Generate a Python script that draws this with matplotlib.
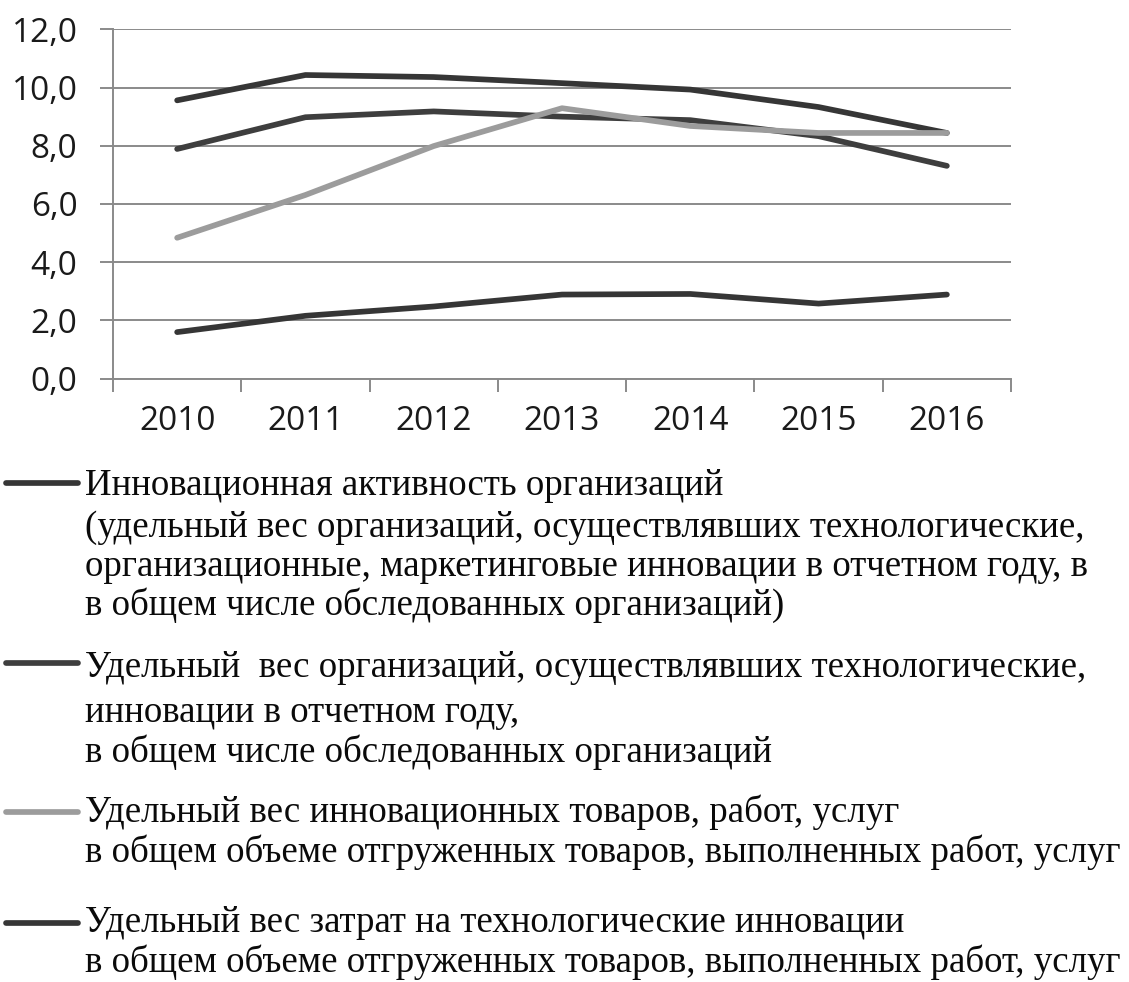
import matplotlib
matplotlib.use("Agg")
import matplotlib.pyplot as plt
from matplotlib.lines import Line2D
from matplotlib.ticker import FixedLocator, FuncFormatter

years = ["2010", "2011", "2012", "2013", "2014", "2015", "2016"]
s_activity = [9.56, 10.43, 10.36, 10.15, 9.93, 9.33, 8.44]
s_tech_orgs = [7.89, 8.98, 9.18, 9.0, 8.88, 8.33, 7.31]
s_innov_goods = [4.84, 6.31, 7.99, 9.29, 8.68, 8.44, 8.44]
s_costs = [1.6, 2.16, 2.48, 2.89, 2.91, 2.58, 2.89]

legend_texts = [
    ["Инновационная активность организаций",
     "(удельный вес организаций, осуществлявших технологические,",
     "организационные, маркетинговые инновации в отчетном году, в",
     "в общем числе обследованных организаций)"],
    ["Удельный  вес организаций, осуществлявших технологические,",
     "инновации в отчетном году,",
     "в общем числе обследованных организаций"],
    ["Удельный вес инновационных товаров, работ, услуг",
     "в общем объеме отгруженных товаров, выполненных работ, услуг"],
    ["Удельный вес затрат на технологические инновации",
     "в общем объеме отгруженных товаров, выполненных работ, услуг"],
]

series = [s_activity, s_tech_orgs, s_innov_goods, s_costs]
colors = ["#363636", "#3e3e3e", "#9c9c9c", "#363636"]

W, H = 1129, 982
fig = plt.figure(figsize=(W / 100, H / 100), dpi=100)
ax = fig.add_axes([113 / W, 1 - 378.7 / H, (1011 - 113) / W, (378.7 - 29.3) / H])

x = list(range(len(years)))
for s, c in zip(series, colors):
    ax.plot(x, s, color=c, lw=4.1, solid_capstyle="round", solid_joinstyle="round", zorder=3)

ax.set_xlim(-0.5, len(years) - 0.5)
ax.set_ylim(0, 12)
ax.yaxis.set_major_locator(FixedLocator([0, 2, 4, 6, 8, 10, 12]))
ax.yaxis.set_major_formatter(FuncFormatter(lambda v, p: f"{v:.1f}".replace(".", ",")))
ax.grid(axis="y", color="#8a8a8a", lw=1.4, zorder=1)
ax.set_axisbelow(True)

ax.xaxis.set_major_locator(FixedLocator([i - 0.5 for i in range(len(years) + 1)]))
ax.xaxis.set_major_formatter(FuncFormatter(lambda v, p: ""))
ax.xaxis.set_minor_locator(FixedLocator(x))
ax.set_xticklabels(years, minor=True)

for sp in ["top", "right"]:
    ax.spines[sp].set_visible(False)
for sp in ["left", "bottom"]:
    ax.spines[sp].set_color("#8a8a8a")
    ax.spines[sp].set_linewidth(1.4)

ax.tick_params(axis="y", which="major", length=9.5, width=1.4, color="#8a8a8a", pad=16)
ax.tick_params(axis="x", which="major", length=9, width=1.4, color="#8a8a8a")
ax.tick_params(axis="x", which="minor", length=0, pad=19)
for lab in ax.get_yticklabels():
    lab.set_fontfamily("Open Sans"); lab.set_fontsize(24); lab.set_color("#1a1a1a")
for lab in ax.get_xticklabels(minor=True):
    lab.set_fontfamily("Open Sans"); lab.set_fontsize(24); lab.set_color("#1a1a1a")

# legend drawn below the chart
handle_y = [483, 663, 812, 923]
baselines = [[495, 537, 576, 615], [677, 722, 762], [822, 862], [932, 972]]
for texts, c, hy, bls in zip(legend_texts, colors, handle_y, baselines):
    fig.add_artist(Line2D([6 / W, 78 / W], [1 - hy / H, 1 - hy / H], color=c, lw=4.1,
                          solid_capstyle="round", transform=fig.transFigure))
    for t, b in zip(texts, bls):
        fig.text(85 / W, 1 - b / H, t, family="Liberation Serif", size=26.6,
                 color="#0a0a0a", va="baseline", ha="left")

fig.savefig("out.png", dpi=100, facecolor="white")
